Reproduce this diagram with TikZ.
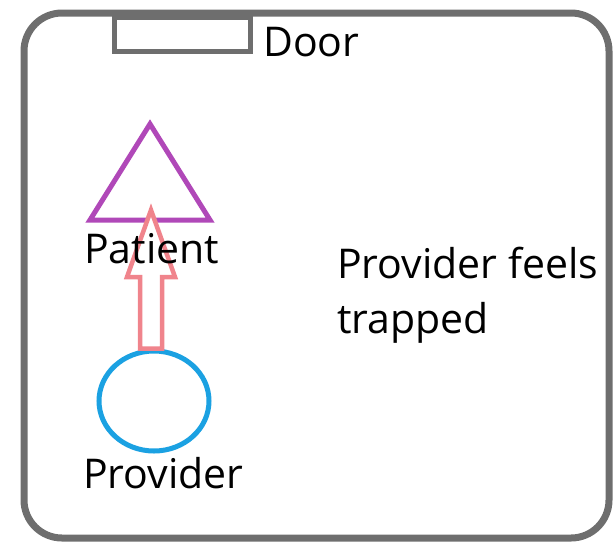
\documentclass[tikz,border=0pt]{standalone}
\usepackage{fontspec}
\setmainfont{Open Sans}
\usetikzlibrary{shapes.geometric}
\definecolor{wallgray}{HTML}{6E6E6E}
\definecolor{patientpurple}{HTML}{B048B8}
\definecolor{arrowpink}{HTML}{F0848C}
\definecolor{providerblue}{HTML}{1BA1E2}
\begin{document}
\begin{tikzpicture}[x=1pt,y=-1pt,
  lbl/.style={font=\fontsize{41}{55}\selectfont, inner sep=0pt, anchor=base west, text=black},
  wall/.style={draw=wallgray, line width=7pt, rounded corners=38pt},
  doorbox/.style={draw=wallgray, line width=5pt, inner sep=0pt, minimum width=136pt, minimum height=34pt},
  tri/.style={draw=patientpurple, line width=5pt, line join=miter},
  blockarrow/.style={draw=arrowpink, line width=4.5pt, line join=miter, fill=white},
  prov/.style={draw=providerblue, line width=5pt, ellipse, inner sep=0pt, minimum width=110pt, minimum height=100pt}]
\useasboundingbox (0,0) rectangle (613,542);
\draw[wall] (24,13) rectangle (609,538);
\node[doorbox] (door) at (182,34) {};
\node[lbl, font=\fontsize{41}{50}\selectfont] (doorlbl) at (263,56) {Door};
\coordinate (ta) at (150,124);
\coordinate (tb) at (210,220);
\coordinate (tc) at (90,220);
\draw[tri] (ta) -- (tb) -- (tc) -- cycle;
\node[prov] (provider) at (154,401) {};
\coordinate (tip) at (151,210);
\draw[blockarrow] (provider.north -| 140,0) -- (140,277) -- (127,277) -- (tip) -- (175,277) -- (162,277) -- (provider.north -| 162,0) -- cycle;
\node[lbl] (patient) at (84,263) {Patient};
\node[lbl] (providerlbl) at (83,488) {Provider};
\node[lbl, align=left, anchor=north west] (feels) at (337,247) {Provider feels\\trapped};
\end{tikzpicture}
\end{document}
